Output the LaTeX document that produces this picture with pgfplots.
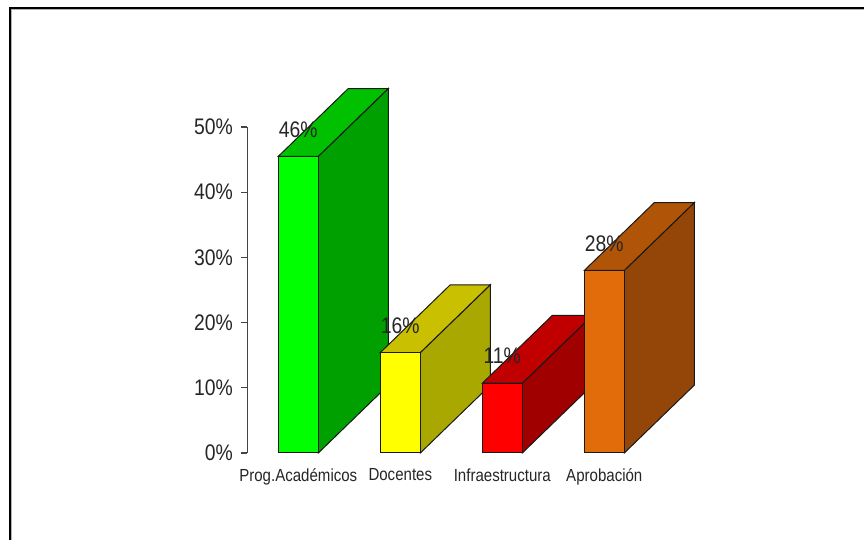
\documentclass[border=0pt]{standalone}
\usepackage{pgfplots}
\pgfplotsset{compat=1.18}
\usepackage{fontspec}
\setmainfont{Liberation Sans}[FakeStretch=0.86]
\definecolor{gF}{HTML}{00FF00}\definecolor{gT}{HTML}{00C000}\definecolor{gS}{HTML}{00A000}
\definecolor{yF}{HTML}{FFFF00}\definecolor{yT}{HTML}{C8C000}\definecolor{yS}{HTML}{A8A800}
\definecolor{rF}{HTML}{FF0000}\definecolor{rT}{HTML}{C00000}\definecolor{rS}{HTML}{A00000}
\definecolor{oF}{HTML}{E36C0A}\definecolor{oT}{HTML}{B05408}\definecolor{oS}{HTML}{934608}
\definecolor{axgray}{HTML}{444444}
\begin{document}
\begin{tikzpicture}
\path[use as bounding box] (0,0) rectangle (864pt,540pt);
\fill[white] (0,0) rectangle (864pt,540pt);
\draw[line width=2pt,black] (10pt,0) -- (10pt,532pt) -- (864pt,532pt);
\draw[line width=0.8pt,gray!60] (11.5pt,0) -- (11.5pt,530.5pt) -- (864pt,530.5pt);
\begin{axis}[
  at={(247.3pt,87pt)}, anchor=south west,
  scale only axis, width=459pt, height=326pt,
  xmin=-0.5, xmax=4.0, ymin=0, ymax=50,
  clip=false,
  axis y line*=left, axis x line*=bottom,
  x axis line style={draw=none},
  y axis line style={draw=axgray, line width=1.2pt},
  ytick={0,10,20,30,40,50},
  yticklabels={0\%,10\%,20\%,30\%,40\%,50\%},
  ytick style={draw=axgray, line width=1.2pt},
  tick align=outside, major tick length=6pt,
  xtick={0,1,2,3},
  xtick style={draw=none},
  xticklabels={Prog.Académicos,Docentes,Infraestructura,Aprobación},
  yticklabel style={font=\fontsize{22.5}{26}\selectfont, text=black!85, xshift=-5pt},
  xticklabel style={font=\fontsize{17.5}{21}\selectfont, text=black!85, yshift=-6pt},
  minor tick num=0,
]
% Bar 1
\addplot[draw=black!90, fill=gS, line width=1pt] coordinates {(0.196,0) (0.882,10.4) (0.882,55.9) (0.196,45.5)} -- cycle;
\addplot[draw=black!90, fill=gT, line width=1pt] coordinates {(-0.196,45.5) (0.196,45.5) (0.882,55.9) (0.490,55.9)} -- cycle;
\addplot[draw=black!90, fill=gF, line width=1pt] coordinates {(-0.196,0) (0.196,0) (0.196,45.5) (-0.196,45.5)} -- cycle;
% Bar 2
\addplot[draw=black!90, fill=yS, line width=1pt] coordinates {(1.196,0) (1.882,10.4) (1.882,25.8) (1.196,15.4)} -- cycle;
\addplot[draw=black!90, fill=yT, line width=1pt] coordinates {(0.804,15.4) (1.196,15.4) (1.882,25.8) (1.490,25.8)} -- cycle;
\addplot[draw=black!90, fill=yF, line width=1pt] coordinates {(0.804,0) (1.196,0) (1.196,15.4) (0.804,15.4)} -- cycle;
% Bar 3
\addplot[draw=black!90, fill=rS, line width=1pt] coordinates {(2.196,0) (2.882,10.4) (2.882,21.1) (2.196,10.7)} -- cycle;
\addplot[draw=black!90, fill=rT, line width=1pt] coordinates {(1.804,10.7) (2.196,10.7) (2.882,21.1) (2.490,21.1)} -- cycle;
\addplot[draw=black!90, fill=rF, line width=1pt] coordinates {(1.804,0) (2.196,0) (2.196,10.7) (1.804,10.7)} -- cycle;
% Bar 4
\addplot[draw=black!90, fill=oS, line width=1pt] coordinates {(3.196,0) (3.882,10.4) (3.882,38.4) (3.196,28.0)} -- cycle;
\addplot[draw=black!90, fill=oT, line width=1pt] coordinates {(2.804,28.0) (3.196,28.0) (3.882,38.4) (3.490,38.4)} -- cycle;
\addplot[draw=black!90, fill=oF, line width=1pt] coordinates {(2.804,0) (3.196,0) (3.196,28.0) (2.804,28.0)} -- cycle;
% value labels
\foreach \xx/\vv/\tt in {0/45.5/46,1/15.4/16,2/10.7/11,3/28.0/28}{
  \edef\temp{\noexpand\node[font=\noexpand\fontsize{22.5}{26}\noexpand\selectfont, text=black!85, inner sep=0pt] at (axis cs:\xx,\vv) [yshift=27pt] {\tt\noexpand\%};}
  \temp
}
\end{axis}
\end{tikzpicture}
\end{document}
